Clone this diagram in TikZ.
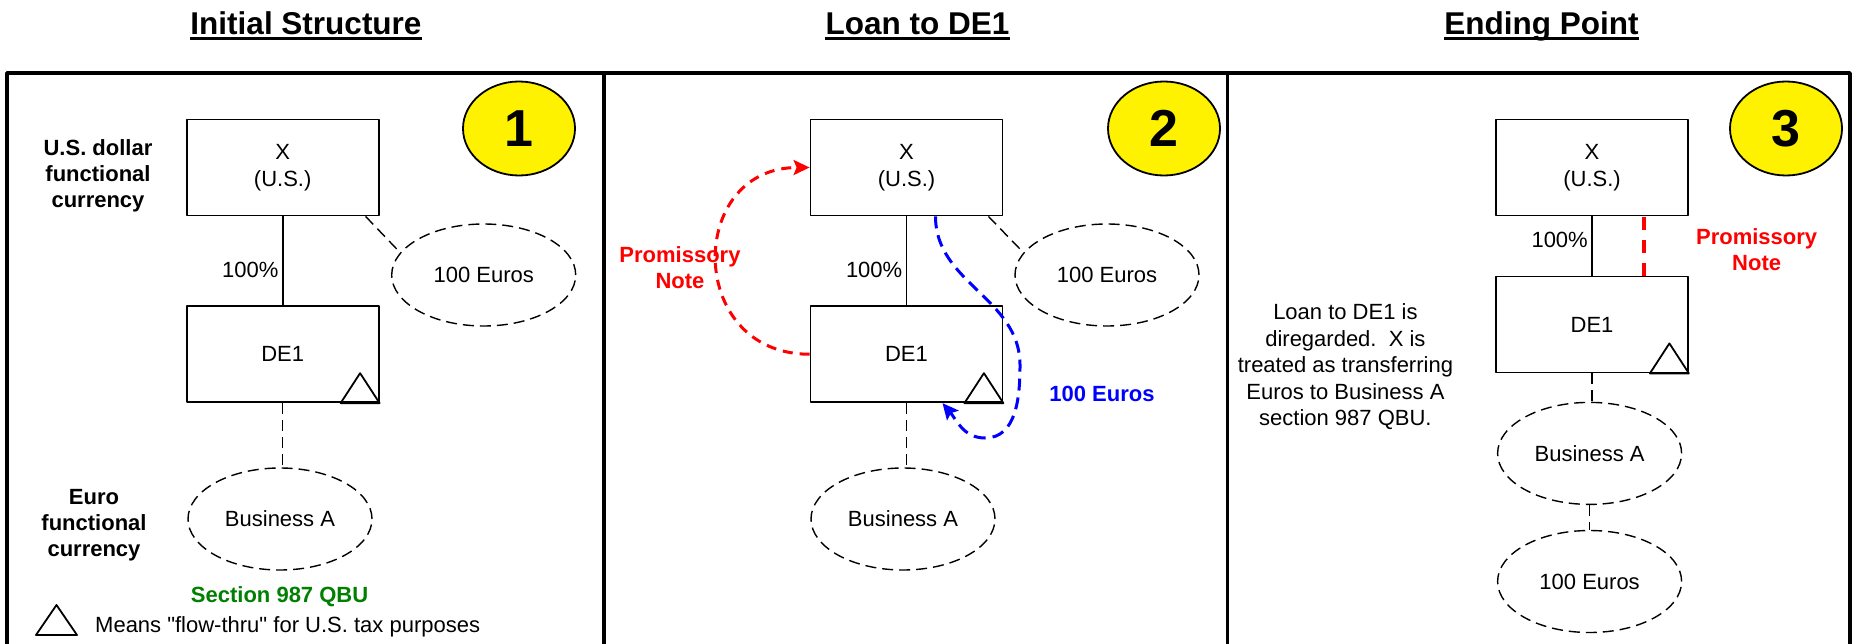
\documentclass[tikz,border=0pt]{standalone}
\usepackage{fontspec}
\setmainfont{Liberation Sans}[Ligatures=TeXOff]
\usetikzlibrary{arrows.meta,shapes.geometric}
\definecolor{qbugreen}{RGB}{0,128,0}
\begin{document}
\begin{tikzpicture}[x=1pt,y=-1pt,>={Stealth[length=16pt,width=15pt,inset=3pt]},line join=round,
	font=\fontsize{22}{26.5}\selectfont,
	ttl/.style={font=\fontsize{31.5}{36}\selectfont\bfseries,inner sep=0pt,anchor=base},
	ent/.style={draw,line width=1.8pt,minimum width=192pt,minimum height=96pt,align=center,inner sep=0pt},
	oval/.style={draw,ellipse,dash pattern=on 11pt off 6pt,line width=1.4pt,minimum width=184pt,minimum height=102pt,inner sep=0pt},
	num/.style={draw,ellipse,fill=yellow,line width=1.8pt,minimum width=112pt,minimum height=94pt,inner sep=0pt,font=\fontsize{52}{52}\selectfont\bfseries},
	lbl/.style={align=center,font=\fontsize{22}{26}\selectfont\bfseries},
	own/.style={line width=1.8pt},
	dsh/.style={line width=1.4pt,dash pattern=on 11pt off 6pt},
	tri/.style={line width=1.8pt},
	redarr/.style={red,line width=3pt,dash pattern=on 10pt off 7pt},
	bluearr/.style={blue,line width=3pt,dash pattern=on 12pt off 7pt}]
	\useasboundingbox (0,0) rectangle (1854,644);
	\draw[line width=3.5pt] (7,650) -- (7,73) -- (1850,73) -- (1850,650);
	\draw[line width=3.5pt] (604,73) -- (604,650) (1227.5,73) -- (1227.5,650);
	
	\node[ttl] (t1) at (306,35) {Initial Structure};
	\draw[line width=3pt] ([yshift=-4pt]t1.base west) -- ([yshift=-4pt]t1.base east);
	\node[num] (n1) at (519,128.5) {1};
	\node[ent] (xa) at (282.7,167.5) {X\\(U.S.)};
	\node[ent] (de1a) at (282.7,354.25) {DE1};
	\node[oval] (eua) at (483.7,275) {100 Euros};
	\node[oval] (busa) at (280,519) {Business A};
	\draw[own] (xa) -- node[pos=.6,left]{100\%} (de1a);
	\draw[dsh] ([xshift=-14pt]xa.south east) -- (eua.165);
	\draw[dsh] (de1a.south) -- (de1a.south |- busa.north);
	\draw[tri] ([xshift=-39pt]de1a.south east) -- ++(19.5,-30) -- (de1a.south east) -- cycle;
	\node[lbl] (usd) at (98,176) {U.S. dollar\\functional\\currency};
	\node[lbl] (eur) at (94,525) {Euro\\functional\\currency};
	\node[lbl,text=qbugreen,anchor=base] (qbu) at (279.6,602) {Section 987 QBU};
	\draw[tri] (36,635) -- (56.5,605) -- (77,635) -- cycle;
	\node[anchor=base west,inner sep=0pt] (mean) at (95,632) {Means "flow-thru" for U.S. tax purposes};
	
	\node[ttl] (t2) at (917.5,35) {Loan to DE1};
	\draw[line width=3pt] ([yshift=-4pt]t2.base west) -- ([yshift=-4pt]t2.base east);
	\node[num] (n2) at (1164,128.5) {2};
	\node[ent] (xb) at (906.5,167.5) {X\\(U.S.)};
	\node[ent] (de1b) at (906.5,354.25) {DE1};
	\node[oval] (eub) at (1107,275) {100 Euros};
	\node[oval] (busb) at (903,519) {Business A};
	\draw[own] (xb) -- node[pos=.6,left]{100\%} (de1b);
	\draw[dsh] ([xshift=-15pt]xb.south east) -- (eub.165);
	\draw[dsh] (de1b.south) -- (de1b.south |- busb.north);
	\draw[tri] ([xshift=-39pt]de1b.south east) -- ++(19.5,-30) -- (de1b.south east) -- cycle;
	\draw[redarr,->] (de1b.west) to[out=180,in=180,looseness=1.7] (xb.west);
	\node[lbl,text=red] (pnb) at (680,268) {Promissory\\Note};
	\coordinate (bw1) at (1020,365);
	\coordinate (bw2) at (985,438);
	\draw[bluearr,->] ([xshift=29pt]xb.south) to[out=-90,in=90] (bw1) to[out=-90,in=0] (bw2) to[out=180,in=-50] ([xshift=36pt]de1b.south);
	\node[lbl,text=blue] (eurb) at (1102,394) {100 Euros};
	
	\node[ttl] (t3) at (1541.5,35) {Ending Point};
	\draw[line width=3pt] ([yshift=-4pt]t3.base west) -- ([yshift=-4pt]t3.base east);
	\node[num] (n3) at (1786,128.5) {3};
	\node[ent] (xc) at (1592,167.5) {X\\(U.S.)};
	\node[ent] (de1c) at (1592,324.5) {DE1};
	\node[oval] (busc) at (1589.6,453.4) {Business A};
	\node[oval] (euc) at (1589.6,581.5) {100 Euros};
	\draw[own] (xc) -- node[pos=.39,left]{100\%} (de1c);
	\draw[red,line width=3.5pt,dash pattern=on 13pt off 10pt] ([xshift=52pt]de1c.north) -- ([xshift=52pt]xc.south);
	\node[lbl,text=red] (pnc) at (1756.6,250) {Promissory\\Note};
	\draw[dsh] (de1c.south) -- (de1c.south |- busc.north);
	\draw[dsh] (busc) -- (euc);
	\draw[tri] ([xshift=-39pt]de1c.south east) -- ++(19.5,-30) -- (de1c.south east) -- cycle;
	\node[align=center] (txt) at (1345.4,366.7) {Loan to DE1 is\\diregarded.\ \ X is\\treated as transferring\\Euros to Business A\\section 987 QBU.};
\end{tikzpicture}
\end{document}
